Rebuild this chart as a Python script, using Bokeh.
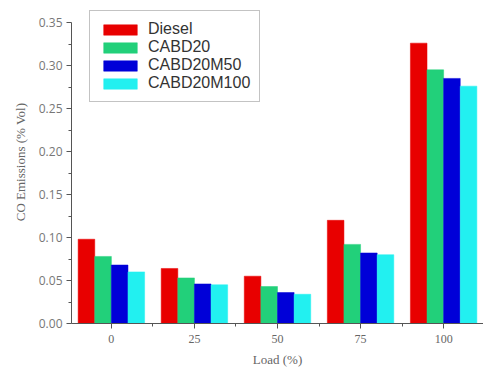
from bokeh.plotting import figure
from bokeh.models import (ColumnDataSource, Range1d, FixedTicker,
                          NumeralTickFormatter, Legend, LegendItem)
from bokeh.transform import dodge
from bokeh.embed import file_html
from bokeh.resources import INLINE

loads = ["0", "25", "50", "75", "100"]
diesel = [0.098, 0.064, 0.055, 0.120, 0.326]
cabd20 = [0.078, 0.053, 0.043, 0.092, 0.295]
cabd20m50 = [0.068, 0.046, 0.036, 0.082, 0.285]
cabd20m100 = [0.060, 0.045, 0.034, 0.080, 0.276]
series_names = ["Diesel", "CABD20", "CABD20M50", "CABD20M100"]
colors = ["#E80000", "#22D07A", "#0000D8", "#22F0F0"]
y_ticks = [0.0, 0.05, 0.10, 0.15, 0.20, 0.25, 0.30, 0.35]
y_minor = [0.025, 0.075, 0.125, 0.175, 0.225, 0.275, 0.325]

idx = list(range(len(loads)))
src = ColumnDataSource(dict(x=idx, Diesel=diesel, CABD20=cabd20,
                            CABD20M50=cabd20m50, CABD20M100=cabd20m100))

p = figure(width=483, height=370, output_backend="svg", toolbar_location=None,
           x_range=Range1d(-0.48, 4.48), y_range=Range1d(0, 0.3756),
           min_border_left=71, min_border_right=0, min_border_top=0, min_border_bottom=47)
p.outline_line_color = None
p.grid.visible = False
p.background_fill_color = "white"
p.border_fill_color = "white"

w = 0.2
offsets = [-0.3, -0.1, 0.1, 0.3]
renderers = []
for name, col, off in zip(series_names, colors, offsets):
    r = p.vbar(x=dodge("x", off), top=name, width=w, bottom=0, source=src,
               fill_color=col, line_color=col, line_width=0.5)
    renderers.append(r)

legend = Legend(items=[LegendItem(label=n, renderers=[r]) for n, r in zip(series_names, renderers)],
                location=(18, 221))
legend.glyph_width = 42
legend.glyph_height = 13
legend.label_height = 13
legend.spacing = 0
legend.padding = 9
legend.label_standoff = 7
legend.margin = 0
legend.border_line_color = "#888888"
legend.border_line_width = 1.5
legend.label_text_font = "Liberation Sans"
legend.label_text_font_size = "16px"
legend.label_text_color = "#333333"
p.add_layout(legend, "center")

xa = p.xaxis[0]
xa.ticker = FixedTicker(ticks=idx, minor_ticks=[i + 0.5 for i in idx[:-1]])
xa.major_label_overrides = {i: l for i, l in zip(idx, loads)}
xa.axis_label = "Load (%)"
xa.axis_label_text_font = "Liberation Serif"
xa.axis_label_text_font_style = "normal"
xa.axis_label_text_font_size = "13px"
xa.axis_label_text_color = "#666666"
xa.axis_label_standoff = 6
xa.major_label_text_font = "Liberation Serif"
xa.major_label_text_font_size = "12px"
xa.major_label_text_color = "#666666"
xa.major_label_standoff = 6

ya = p.yaxis[0]
ya.ticker = FixedTicker(ticks=y_ticks, minor_ticks=y_minor)
ya.bounds = (0, 0.35)
ya.formatter = NumeralTickFormatter(format="0.00")
ya.axis_label = "CO Emissions (% Vol)"
ya.axis_label_text_font = "Liberation Serif"
ya.axis_label_text_font_style = "normal"
ya.axis_label_text_font_size = "13px"
ya.axis_label_text_color = "#666666"
ya.axis_label_standoff = 8
ya.major_label_text_font = "Open Sans"
ya.major_label_text_font_size = "12px"
ya.major_label_text_color = "#777777"
ya.major_label_standoff = 4

for ax in (xa, ya):
    ax.axis_line_color = "#555555"
    ax.major_tick_line_color = "#555555"
    ax.minor_tick_line_color = "#555555"
    ax.major_tick_out = 5
    ax.major_tick_in = 0
    ax.minor_tick_out = 3
    ax.minor_tick_in = 0

open("out.html", "w").write(file_html(p, INLINE))
